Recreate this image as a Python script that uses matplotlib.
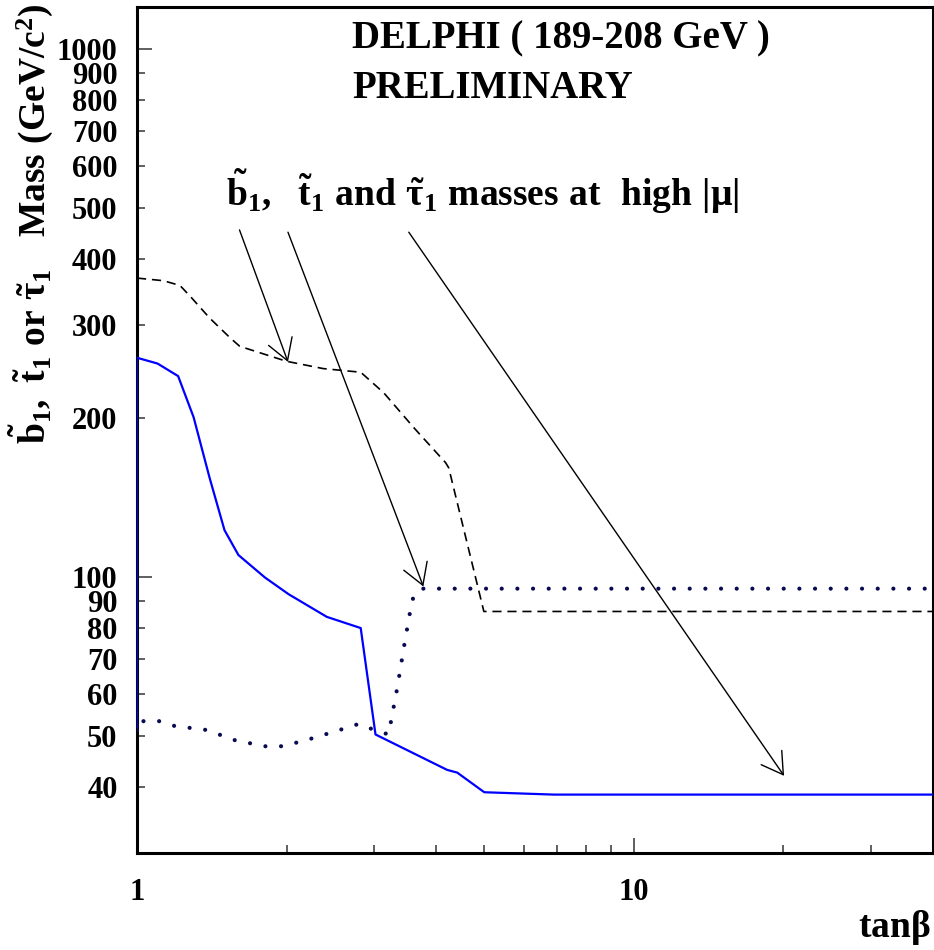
import matplotlib
matplotlib.use("Agg")
import matplotlib.pyplot as plt
from matplotlib.ticker import FixedLocator, FuncFormatter, NullFormatter

# fontes tipo Times em negrito, como no original
plt.rcParams['font.family'] = ['Liberation Serif', 'DejaVu Serif']
plt.rcParams['font.weight'] = 'bold'
plt.rcParams['mathtext.fontset'] = 'custom'
plt.rcParams['mathtext.rm'] = 'Liberation Serif:bold'
plt.rcParams['mathtext.bf'] = 'Liberation Serif:bold'
plt.rcParams['mathtext.it'] = 'Liberation Serif'

# ------------------------------------------------------------------
# Dados (tan beta, massa em GeV/c^2)
# ------------------------------------------------------------------
# curva azul continua
blue_x = [1.0, 1.0, 1.10, 1.21, 1.30, 1.40, 1.50, 1.60, 1.81, 2.02, 2.41, 2.82,
          3.02, 4.21, 4.41, 5.0, 6.9, 40]
blue_y = [51.2, 260, 253.5, 240, 200.6, 154, 122.6, 110, 99.7, 92.7, 84.0, 80.0,
          50.3, 43.1, 42.6, 39.1, 38.7, 38.7]

# curva pontilhada
dot_x = [1.0, 1.0, 1.11, 1.19, 1.38, 1.58, 1.83, 1.97, 2.26, 2.61, 2.80, 3.0,
         3.21, 3.25, 3.34, 3.46, 3.55, 3.61, 3.77, 40]
dot_y = [51.2, 53.3, 53.3, 52.2, 51.3, 49.0, 47.7, 47.8, 49.5, 51.6, 52.7, 51.3,
         50.3, 53.7, 61.6, 75.4, 86.5, 92.8, 95.0, 95.0]

# curva tracejada
dash_x = [1.0, 1.13, 1.22, 1.28, 1.40, 1.54, 1.61, 2.0, 2.37, 2.82, 3.14, 3.61,
          4.18, 4.24, 4.99, 40]
dash_y = [368, 363.8, 356.4, 339.8, 309.2, 283.5, 273.3, 256.0, 248.0, 244.1,
          223.0, 191.5, 164.5, 160.9, 86.0, 86.0]

# setas: (inicio) -> (ponta)
arrow_start = [(1.608, 454), (2.013, 449.5), (3.524, 449.5)]
arrow_tip = [(2.013, 255.3), (3.77, 95.9), (20.06, 42.0)]

x_major = [1, 10]
x_minor = [2, 3, 4, 5, 6, 7, 8, 9, 20, 30]
y_major = [100, 1000]
y_minor = [40, 50, 60, 70, 80, 90, 200, 300, 400, 500, 600, 700, 800, 900]

# ------------------------------------------------------------------
fig = plt.figure(figsize=(9.34, 9.5), dpi=100)
ax = fig.add_axes([137/934, 1 - 853/950, 796/934, 846/950])

ax.plot(blue_x, blue_y, color="#0000ff", lw=1.6, zorder=3)
ax.plot(dash_x, dash_y, color="black", lw=1.2, ls=(0, (5.5, 3.5)), zorder=3)
ax.plot(dot_x, dot_y, color="#0a0a50", lw=3.0, ls=(0, (0.01, 3.75)),
        dash_capstyle="round", zorder=3)

for s, t in zip(arrow_start, arrow_tip):
    ax.annotate("", xy=t, xytext=s,
                arrowprops=dict(arrowstyle="->,head_length=0.75,head_width=0.45",
                                lw=1.0, color="black", shrinkA=0, shrinkB=0,
                                mutation_scale=20))

ax.set_xscale("log")
ax.set_yscale("log")
ax.set_xlim(1, 40)
ax.set_ylim(30, 1200)

ax.xaxis.set_major_locator(FixedLocator(x_major))
ax.xaxis.set_minor_locator(FixedLocator(x_minor))
ax.xaxis.set_major_formatter(FuncFormatter(lambda v, p: f"{v:g}"))
ax.xaxis.set_minor_formatter(NullFormatter())
ax.yaxis.set_major_locator(FixedLocator(y_major))
ax.yaxis.set_minor_locator(FixedLocator(y_minor))
ax.yaxis.set_major_formatter(FuncFormatter(lambda v, p: f"{v:g}"))
ax.yaxis.set_minor_formatter(FuncFormatter(lambda v, p: f"{v:g}"))

ax.tick_params(which="both", direction="in", color="#444444", width=1.2,
               labelsize=22, top=False, right=False)
ax.tick_params(axis="y", which="major", length=11, pad=14)
ax.tick_params(axis="y", which="minor", length=6, pad=14)
ax.tick_params(axis="x", which="major", length=11, pad=18)
ax.tick_params(axis="x", which="minor", length=6, pad=18)
for lab in ax.get_xticklabels() + ax.get_yticklabels(which="both"):
    lab.set_fontweight("bold")
for sp in ax.spines.values():
    sp.set_linewidth(2.2)

# textos
fig.text(352/934, 1 - 48/950, "DELPHI ( 189-208 GeV )", fontsize=28,
         fontweight="bold", va="baseline", ha="left")
fig.text(352/934, 1 - 98/950, "PRELIMINARY", fontsize=28,
         fontweight="bold", va="baseline", ha="left")
fig.text(226/934, 1 - 206/950,
         r"$\tilde{\mathrm{b}}_{\mathrm{1}}\mathrm{,\ \ }\tilde{\mathrm{t}}_{\mathrm{1}}"
         r"\mathrm{\ and\ }\tilde{\tau}_{\mathrm{1}}\mathrm{\ masses\ at\ \ high\ }|\mu|$",
         fontsize=27, va="baseline", ha="left")
fig.text(31/934, 1 - 3/950,
         r"$\tilde{\mathrm{b}}_{\mathrm{1}}\mathrm{,\ }\tilde{\mathrm{t}}_{\mathrm{1}}"
         r"\mathrm{\ or\ }\tilde{\tau}_{\mathrm{1}}\mathrm{\ \ \ Mass\ (GeV/c^2)}$",
         fontsize=27, rotation=90, va="top", ha="center")
fig.text(931/934, 1 - 937/950, r"$\mathrm{tan}\beta$", fontsize=27,
         va="baseline", ha="right")

fig.savefig("out.png", dpi=100)
